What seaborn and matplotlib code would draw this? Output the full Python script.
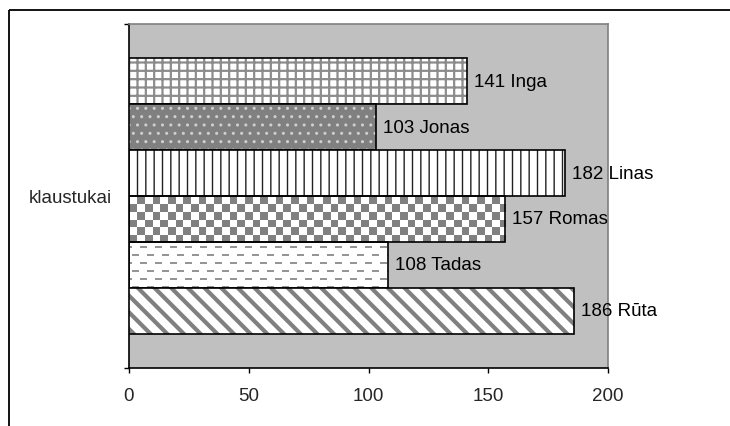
import numpy as np
import pandas as pd
import matplotlib
matplotlib.use("Agg")
import matplotlib.pyplot as plt
import matplotlib.colors as mcolors
from matplotlib.lines import Line2D
import seaborn as sns

# ---- data ----
category = ["klaustukai"]
names = ["Inga", "Jonas", "Linas", "Romas", "Tadas", "Rūta"]
values = [141, 103, 182, 157, 108, 186]
x_ticks = [0, 50, 100, 150, 200]

sns.set_theme(style="white")
plt.rcParams["font.family"] = ["Liberation Sans", "DejaVu Sans"]
plt.rcParams["hatch.linewidth"] = 1.5

W, H = 730, 427
fig = plt.figure(figsize=(W / 100, H / 100), dpi=100)
fig.patch.set_facecolor("white")

# outer chart border (cut off at right/bottom as in reference)
ytop = 1 - 10.5 / H
fig.add_artist(Line2D([8.5 / W, 8.5 / W], [0.0, ytop],
                      transform=fig.transFigure, color="black", linewidth=1.3,
                      solid_capstyle="butt"))
fig.add_artist(Line2D([8.5 / W, 1.0], [ytop, ytop],
                      transform=fig.transFigure, color="black", linewidth=1.3,
                      solid_capstyle="butt"))

ax = fig.add_axes([129 / W, 1 - 369 / H, (608 - 129) / W, (369 - 25) / H])
ax.set_facecolor("#c0c0c0")

df = pd.DataFrame({"cat": category * len(names), "name": names, "value": values})
face = {"Inga": "white", "Jonas": "#808080", "Linas": "white",
        "Romas": "none", "Tadas": "none", "Rūta": "white"}
sns.barplot(data=df, x="value", y="cat", hue="name", hue_order=names, orient="h",
            ax=ax, width=0.8, palette=["white"] * len(names), saturation=1,
            edgecolor="black", linewidth=1.2, legend=False, zorder=3)

ax.set_xlim(0, 200)
ax.set_ylim(0.5, -0.5)

styles = {
    "Inga": dict(hatch="++", hc="#8c8c8c", hl=1.6),
    "Jonas": dict(hatch="..", hc="#d0d0d0", hl=1.0),
    "Linas": dict(hatch="||", hc="#202020", hl=1.0),
    "Rūta": dict(hatch="\\\\", hc="#808080", hl=3.0),
}
val2name = dict(zip(values, names))
fig.canvas.draw()
to_px = ax.transData
for p in list(ax.patches):
    nm = val2name.get(int(round(p.get_width())))
    if nm is None:
        continue
    p.set_facecolor(face[nm])
    p.set_edgecolor("black")
    if nm in styles:
        st = styles[nm]
        p.set_hatch(st["hatch"])
        if hasattr(p, "set_hatchcolor"):
            p.set_hatchcolor(st["hc"])
        else:
            p._hatch_color = mcolors.to_rgba(st["hc"])
        if hasattr(p, "set_hatch_linewidth"):
            p.set_hatch_linewidth(st["hl"])
        else:
            p._hatch_linewidth = st["hl"]
    x0, y0 = p.get_x(), p.get_y()
    x1, y1 = x0 + p.get_width(), y0 + p.get_height()
    if nm in ("Romas", "Tadas"):
        (px0, py0), (px1, py1) = to_px.transform([(x0, y0), (x1, y1)])
        wpx = int(round(abs(px1 - px0)))
        hpx = int(round(abs(py1 - py0)))
        yy, xx = np.mgrid[0:hpx, 0:wpx]
        img = np.ones((hpx, wpx, 3))
        if nm == "Romas":
            mask = ((np.floor(xx / 7.7) + np.floor(yy / 7.7)) % 2) == 1
            img[mask] = mcolors.to_rgb("#808080")
        else:
            row = (yy - 4) % 8
            rowi = (yy - 4) // 8
            shift = np.where(rowi % 2 == 0, 0, 8)
            mask = (row < 2) & (((xx + shift + 4) % 15) < 7)
            img[mask] = mcolors.to_rgb("#959595")
        ax.imshow(img, extent=(x0, x1, y1, y0), origin="upper", aspect="auto",
                  interpolation="nearest", zorder=2)
    ax.annotate(f"{int(round(p.get_width()))} {nm}", xy=(x1, (y0 + y1) / 2),
                xytext=(5, 0), textcoords="offset points", va="center", ha="left",
                fontsize=13.5, color="black")

ax.set_xlim(0, 200)
ax.set_ylim(0.5, -0.5)

ax.set_xticks(x_ticks)
ax.set_xticklabels([str(t) for t in x_ticks])
ax.set_yticks([-0.5, 0.5])
ax.set_yticklabels(["", ""])
ax.set_yticks([0], minor=True)
ax.set_yticklabels(category, minor=True)
ax.set_xlabel("")
ax.set_ylabel("")
ax.tick_params(axis="x", which="major", direction="out", length=3.5, width=1,
               color="black", labelsize=13.5, pad=10, bottom=True)
ax.tick_params(axis="y", which="major", direction="out", length=3.5, width=1,
               color="black", left=True)
ax.tick_params(axis="y", which="minor", length=0, pad=12, labelsize=13.5, left=True)

for s in ("left", "bottom"):
    ax.spines[s].set_color("black")
    ax.spines[s].set_linewidth(1.2)
for s in ("top", "right"):
    ax.spines[s].set_color("#808080")
    ax.spines[s].set_linewidth(1.2)
    ax.spines[s].set_visible(True)

fig.savefig("out.png", dpi=100)
